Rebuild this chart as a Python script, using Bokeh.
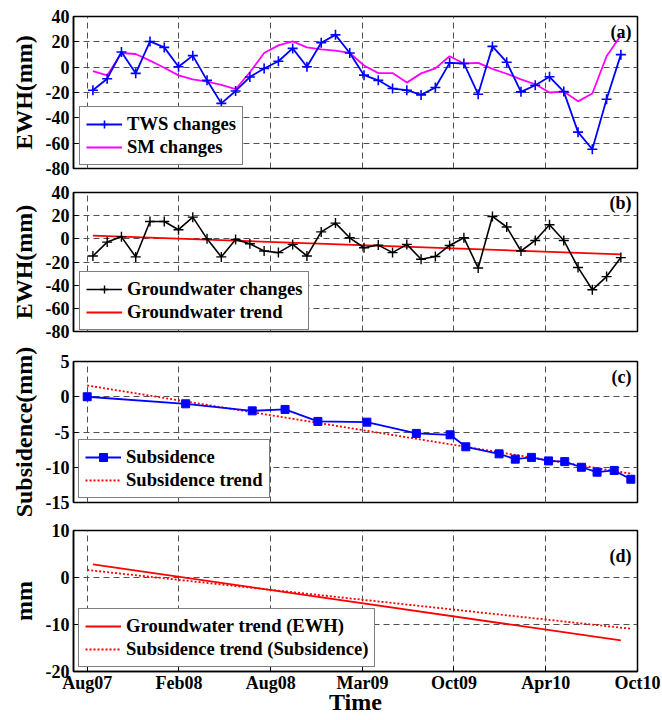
from bokeh.plotting import figure
from bokeh.models import Range1d, FixedTicker, Legend, LegendItem, Label
from bokeh.layouts import column
from bokeh.embed import file_html
from bokeh.resources import INLINE

FONT = "Liberation Serif"

# x axis: days since 1 Aug 2007
tick_days = [0, 193, 386, 579, 771, 964, 1157]
tick_labels = ["Aug07", "Feb08", "Aug08", "Mar09", "Oct09", "Apr10", "Oct10"]

grace_days = [12, 42, 72, 102, 132, 162, 192, 222, 252, 282, 312, 342, 372, 402, 432,
              462, 492, 522, 552, 582, 612, 642, 672, 702, 732, 762, 792, 822, 852, 882,
              912, 942, 972, 1002, 1032, 1062, 1092, 1122]
tws = [-18.2, -9.1, 12.0, -4.9, 20.3, 15.6, 0.3, 9.1, -10.4, -28.6,
       -18.8, -7.8, -1.0, 4.7, 14.8, 0.3, 19.3, 25.5, 11.2, -6.3,
       -10.4, -16.9, -18.2, -21.9, -16.1, 3.4, 2.9, -21.4, 16.4, 3.9,
       -19.5, -14.3, -7.6, -19.3, -51.3, -64.8, -25.3, 9.9]
sm = [-3.1, -6.5, 11.2, 10.4, 5.2, -0.5, -6.5, -9.6, -11.5, -14.0,
      -17.4, -4.0, 11.2, 17.2, 20.3, 15.6, 14.0, 13.0, 11.2, 1.3,
      -4.7, -4.7, -12.2, -4.9, -1.0, 8.6, 2.9, 3.4, -1.3, -5.2,
      -9.6, -13.5, -20.0, -19.3, -27.0, -20.8, 8.6, 25.0]
gw = [-14.8, -2.8, 1.7, -15.6, 15.0, 15.0, 7.9, 18.7, 0.0, -15.6,
      -0.5, -4.3, -10.5, -11.9, -4.8, -14.8, 6.0, 13.6, 0.9, -7.7,
      -5.4, -11.9, -4.8, -17.6, -15.3, -5.7, 0.9, -25.2, 19.3, 10.2,
      -10.5, -1.4, 12.2, -1.4, -24.7, -44.0, -32.6, -16.2]
gw_trend_days = [12, 1122]
gw_trend = [2.8, -13.4]

insar_days = [0, 207, 347, 416, 485, 588, 692, 763, 796, 866, 900, 934, 970,
              1004, 1039, 1072, 1108, 1143]
subsidence = [0.0, -1.0, -2.0, -1.8, -3.5, -3.6, -5.2, -5.4, -7.1, -8.1, -8.85,
              -8.6, -9.1, -9.2, -10.0, -10.7, -10.45, -11.7]
sub_trend_days = [0, 1143]
sub_trend = [1.6, -10.9]

yticks_ab = [-80, -60, -40, -20, 0, 20, 40]
yticks_c = [-15, -10, -5, 0, 5]
yticks_d = [-20, -10, 0, 10]

X0, X1 = -28.8, 1157


def make_fig(height, top, bottom, yr, yticks, ylabel, tag, tag_dy, show_x=False):
    p = figure(width=662, height=height, x_range=Range1d(X0, X1),
               y_range=Range1d(*yr), output_backend="svg", toolbar_location=None,
               min_border_left=73, min_border_right=25,
               min_border_top=top, min_border_bottom=bottom)
    p.background_fill_color = "white"
    p.border_fill_color = "white"
    p.outline_line_color = "black"
    p.outline_line_width = 1.5
    p.outline_line_alpha = 1.0

    p.xaxis.ticker = FixedTicker(ticks=tick_days)
    p.yaxis.ticker = FixedTicker(ticks=yticks)
    p.yaxis.major_label_overrides = {t: str(t) for t in yticks}
    for ax in (p.xaxis, p.yaxis):
        ax.major_tick_in = 5
        ax.major_tick_out = 0
        ax.minor_tick_line_color = None
        ax.axis_line_color = "black"
        ax.axis_line_width = 1.5
        ax.major_tick_line_color = "black"
        ax.major_label_text_font = FONT
        ax.major_label_text_font_style = "bold"
        ax.major_label_text_font_size = "18px"
        ax.major_label_text_color = "black"
        ax.axis_label_text_font = FONT
        ax.axis_label_text_font_style = "bold"
        ax.axis_label_text_font_size = "24px"
        ax.axis_label_text_color = "black"
    p.yaxis.major_label_standoff = 4
    p.yaxis.axis_label = ylabel
    p.yaxis.axis_label_standoff = 6
    if show_x:
        p.xaxis.major_label_overrides = {d: l for d, l in zip(tick_days, tick_labels)}
        p.xaxis.major_label_standoff = 1
        p.xaxis.axis_label = "Time"
        p.xaxis.axis_label_standoff = -7
    else:
        p.xaxis.visible = False

    for g in (p.xgrid, p.ygrid):
        g.grid_line_color = "#505050"
        g.grid_line_width = 1
        g.grid_line_dash = "6 4"

    p.add_layout(Label(x=X1, y=yr[1], x_offset=-6, y_offset=tag_dy, text=tag,
                       text_align="right", text_baseline="top", text_font=FONT,
                       text_font_style="bold", text_font_size="18px",
                       text_color="black"))
    return p


def style_legend(lg):
    lg.border_line_color = "black"
    lg.border_line_width = 1
    lg.background_fill_color = "white"
    lg.background_fill_alpha = 1
    lg.label_text_font = FONT
    lg.label_text_font_style = "bold"
    lg.label_text_font_size = "18.6px"
    lg.label_text_color = "black"
    lg.glyph_width = 36
    lg.glyph_height = 20
    lg.label_height = 20
    lg.padding = 6
    lg.spacing = 1
    lg.margin = 0
    lg.label_standoff = 5


# (a)
pa = make_fig(180, 16, 12, (-80, 40), yticks_ab, "EWH(mm)", "(a)", -5)
sm_l = pa.line(grace_days, sm, line_color="#FF00FF", line_width=1.8)
tws_l = pa.line(grace_days, tws, line_color="#0000FF", line_width=1.8)
tws_s = pa.scatter(grace_days, tws, marker="cross", size=10, line_color="#0000FF", line_width=1.6)
lga = Legend(items=[LegendItem(label="TWS changes", renderers=[tws_l, tws_s]),
                    LegendItem(label="SM changes", renderers=[sm_l])], location=(6, 3))
style_legend(lga)
pa.add_layout(lga)

# (b)
pb = make_fig(165, 12, 14, (-80, 40), yticks_ab, "EWH(mm)", "(b)", 0)
gwt_l = pb.line(gw_trend_days, gw_trend, line_color="#FF0000", line_width=1.8)
gw_l = pb.line(grace_days, gw, line_color="black", line_width=1.6)
gw_s = pb.scatter(grace_days, gw, marker="cross", size=10, line_color="black", line_width=1.4)
lgb = Legend(items=[LegendItem(label="Groundwater changes", renderers=[gw_l, gw_s]),
                    LegendItem(label="Groundwater trend", renderers=[gwt_l])], location=(6, 1))
style_legend(lgb)
pb.add_layout(lgb)

# (c)
pc = make_fig(172, 16, 15, (-15, 5), yticks_c, "Subsidence(mm)", "(c)", -5)
st_l = pc.line(sub_trend_days, sub_trend, line_color="#FF0000", line_width=1.8, line_dash="2 2")
sub_l = pc.line(insar_days, subsidence, line_color="#0000FF", line_width=1.8)
sub_s = pc.scatter(insar_days, subsidence, marker="square", size=8, fill_color="#0000FF",
                   line_color="#0000FF")
lgc = Legend(items=[LegendItem(label="Subsidence", renderers=[sub_l, sub_s]),
                    LegendItem(label="Subsidence trend", renderers=[st_l])], location=(5, 4))
style_legend(lgc)
pc.add_layout(lgc)

# (d)
pd_ = make_fig(203, 13, 49, (-20, 10), yticks_d, "mm", "(d)", -15, show_x=True)
d1 = pd_.line(gw_trend_days, gw_trend, line_color="#FF0000", line_width=1.8)
d2 = pd_.line(sub_trend_days, sub_trend, line_color="#FF0000", line_width=1.8, line_dash="2 2")
lgd = Legend(items=[LegendItem(label="Groundwater trend (EWH)", renderers=[d1]),
                    LegendItem(label="Subsidence trend (Subsidence)", renderers=[d2])],
             location=(5, 4))
style_legend(lgd)
pd_.add_layout(lgd)

layout = column(pa, pb, pc, pd_, spacing=0)
open("out.html", "w").write(file_html(layout, INLINE))
